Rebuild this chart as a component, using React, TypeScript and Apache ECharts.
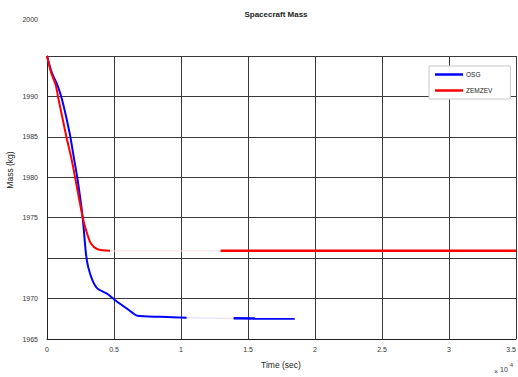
import React, { useEffect, useRef } from "react";
import * as echarts from "echarts";

// Time in seconds, mass in kg
const osgTime = [0, 350, 797, 1095, 1415, 1735, 1988, 2286, 2658, 2904, 3075, 3403, 3775, 4520, 5138, 6009, 6754, 8489, 10425, 13925, 18490];
const osgMass = [1995, 1992.97, 1991.3, 1989.77, 1987.57, 1985.07, 1982.58, 1979.68, 1975.07, 1970.59, 1968.89, 1967.23, 1966.23, 1965.57, 1964.74, 1963.71, 1962.87, 1962.75, 1962.62, 1962.56, 1962.53];
const zemTime = [0, 298, 670, 841, 1169, 1489, 1787, 2085, 2658, 2904, 3276, 3775, 4714, 12957, 35000];
const zemMass = [1995, 1993.0, 1991.3, 1989.8, 1987.2, 1984.7, 1982.6, 1980.1, 1975.1, 1973.5, 1971.8, 1971.1, 1970.9, 1970.9, 1970.9];

// Stretches where the trace is only faintly rendered
const osgGap = [10425, 13925];
const zemGap = [4714, 12957];

const xTicks = ["0", "0.5", "1", "1.5", "2", "2.5", "3", "3.5"];
const yTickLabels: Record<number, string> = {
  1990: "1990",
  1985: "1985",
  1980: "1980",
  1975: "1975",
  1965: "1970",
  1960: "1965",
};

const FONT = "Liberation Sans, Arial, sans-serif";

function pairs(t: number[], m: number[]) {
  return t.map((v, i) => [v, m[i]]);
}

function split(t: number[], m: number[], gap: number[]) {
  const all = pairs(t, m);
  return {
    before: all.filter((p) => p[0] <= gap[0]),
    faint: all.filter((p) => p[0] >= gap[0] && p[0] <= gap[1]),
    after: all.filter((p) => p[0] >= gap[1]),
  };
}

export default function App() {
  const ref = useRef<HTMLDivElement>(null);

  useEffect(() => {
    if (!ref.current) return;
    const chart = echarts.init(ref.current, undefined, { renderer: "svg" });
    const osg = split(osgTime, osgMass, osgGap);
    const zem = split(zemTime, zemMass, zemGap);

    const lineSeries = (name: string, data: number[][], color: string, width: number, smooth: number | boolean) => ({
      type: "line",
      name,
      data,
      showSymbol: false,
      symbol: "none",
      smooth,
      lineStyle: { color, width },
      itemStyle: { color },
      emphasis: { disabled: true },
    });

    chart.setOption({
      animation: false,
      backgroundColor: "#fff",
      title: {
        text: "Spacecraft Mass",
        left: 271,
        top: 5,
        textAlign: "center",
        textStyle: { fontFamily: FONT, fontSize: 8, fontWeight: "bold", color: "#222" },
      },
      grid: { left: 47, right: 2, top: 56, bottom: 38, containLabel: false, outerBoundsMode: "none" },
      legend: {
        data: ["OSG", "ZEMZEV"],
        orient: "vertical",
        left: 429,
        top: 66,
        width: 78,
        itemWidth: 28,
        itemHeight: 2.5,
        icon: "rect",
        itemGap: 9,
        padding: [5, 18, 5, 6],
        backgroundColor: "#fff",
        borderColor: "#c8c8c8",
        borderWidth: 1,
        textStyle: { fontFamily: FONT, fontSize: 6.5, color: "#222", padding: [0, 0, 0, -2] },
      },
      xAxis: {
        type: "value",
        min: 0,
        max: 35000,
        interval: 5000,
        axisLine: { show: true, lineStyle: { color: "#222", width: 1 } },
        axisTick: { show: false },
        axisLabel: {
          margin: 7,
          fontFamily: FONT,
          fontSize: 7,
          color: "#333",
          alignMaxLabel: "right",
          formatter: (v: number) => xTicks[Math.round(v / 5000)] ?? "",
        },
        splitLine: { show: true, lineStyle: { color: "#3a3a3a", width: 1 } },
      },
      yAxis: {
        type: "value",
        min: 1960,
        max: 1995,
        interval: 5,
        axisLine: { show: true, lineStyle: { color: "#222", width: 1 } },
        axisTick: { show: false },
        axisLabel: {
          margin: 9,
          fontFamily: FONT,
          fontSize: 7,
          color: "#333",
          formatter: (v: number) => yTickLabels[Math.round(v)] ?? "",
        },
        splitLine: { show: true, lineStyle: { color: "#3a3a3a", width: 1 } },
      },
      graphic: [
        {
          type: "text",
          x: 38,
          y: 19,
          style: { text: "2000", fontFamily: FONT, fontSize: 7, fill: "#333", align: "right", verticalAlign: "middle" },
        },
        {
          type: "text",
          x: 281,
          y: 365,
          style: { text: "Time (sec)", fontFamily: FONT, fontSize: 8.5, fill: "#222", align: "center", verticalAlign: "middle" },
        },
        {
          type: "text",
          x: 10,
          y: 170,
          rotation: Math.PI / 2,
          style: { text: "Mass (kg)", fontFamily: FONT, fontSize: 8.5, fill: "#222", align: "center", verticalAlign: "middle" },
        },
        {
          type: "text",
          x: 494,
          y: 371,
          style: { text: "×", fontFamily: FONT, fontSize: 7, fill: "#444", align: "left", verticalAlign: "middle" },
        },
        {
          type: "text",
          x: 500,
          y: 369,
          style: { text: "10", fontFamily: FONT, fontSize: 7, fill: "#333", align: "left", verticalAlign: "middle" },
        },
        {
          type: "text",
          x: 510,
          y: 365,
          style: { text: "4", fontFamily: FONT, fontSize: 5.5, fill: "#333", align: "left", verticalAlign: "middle" },
        },
      ],
      series: [
        lineSeries("OSG", osg.before, "#0000ff", 2, 0.25),
        lineSeries("ZEMZEV", zem.before, "#ff0000", 2, 0.25),
        lineSeries("OSG", osg.faint, "#dcdcfa", 1, false),
        lineSeries("ZEMZEV", zem.faint, "#fbe0e0", 1, false),
        lineSeries("OSG", osg.after, "#0000ff", 2.5, false),
        lineSeries("ZEMZEV", zem.after, "#ff0000", 2.5, false),
      ],
    });

    return () => chart.dispose();
  }, []);

  return <div ref={ref} style={{ position: "absolute", left: 0, top: 0, width: 518, height: 377 }} />;
}
